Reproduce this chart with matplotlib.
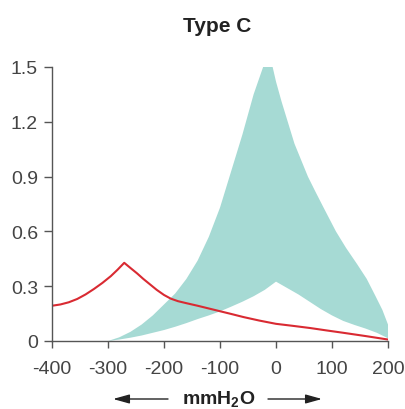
import matplotlib
matplotlib.use('Agg')
import matplotlib.pyplot as plt

# upper edge of the shaded band
up_x = [-300, -280, -260, -240, -220, -200, -180, -160, -140, -120, -100, -80, -60, -40, -23, -15,
        -6, 0, 10, 21, 33, 45, 57, 70, 85, 107, 125, 145, 162, 177, 190, 200]
up_y = [0, 0.02, 0.05, 0.09, 0.14, 0.2, 0.26, 0.34, 0.44, 0.57, 0.73, 0.93, 1.13, 1.35, 1.5, 1.58,
        1.5, 1.42, 1.31, 1.2, 1.08, 0.99, 0.9, 0.82, 0.73, 0.6, 0.51, 0.42, 0.34, 0.25, 0.17, 0.09]

# lower edge of the shaded band
low_x = [-300, -280, -260, -240, -220, -200, -180, -160, -140, -120, -100, -80, -60, -40, -20, 0,
         20, 40, 60, 80, 100, 120, 140, 160, 180, 200]
low_y = [0, 0.008, 0.018, 0.03, 0.045, 0.06, 0.078, 0.098, 0.12, 0.14, 0.162, 0.188, 0.215, 0.245, 0.28, 0.325,
         0.29, 0.255, 0.215, 0.175, 0.14, 0.11, 0.088, 0.068, 0.045, 0.015]

# red curve
red_x = [-400, -385, -370, -355, -340, -325, -310, -295, -283, -271, -260, -248, -237, -225, -213, -200,
         -188, -175, -160, -140, -120, -100, -80, -58, -30, 0, 30, 61, 90, 120, 160, 200]
red_y = [0.193, 0.2, 0.212, 0.23, 0.255, 0.285, 0.318, 0.355, 0.39, 0.428, 0.4, 0.37, 0.34, 0.31, 0.28, 0.252,
         0.232, 0.218, 0.207, 0.193, 0.178, 0.163, 0.148, 0.131, 0.112, 0.094, 0.083, 0.071, 0.058, 0.045, 0.027, 0.008]

x_ticks = [-400, -300, -200, -100, 0, 100, 200]
x_labels = ['-400', '-300', '-200', '-100', '0', '100', '200']
y_ticks = [0, 0.3, 0.6, 0.9, 1.2, 1.5]
y_labels = ['0', '0.3', '0.6', '0.9', '1.2', '1.5']

plt.rcParams['font.family'] = ['Liberation Sans', 'DejaVu Sans']
plt.rcParams['mathtext.fontset'] = 'custom'
plt.rcParams['mathtext.bf'] = 'Liberation Sans:bold'
plt.rcParams['mathtext.rm'] = 'Liberation Sans'

W, H = 406, 410
fig = plt.figure(figsize=(W / 100, H / 100), dpi=100)
ax = fig.add_axes([52 / W, 68 / H, 336 / W, 274 / H])

# band polygon: along the upper edge, back along the lower edge
ax.fill(up_x + low_x[::-1], up_y + low_y[::-1], color='#a6dad4', linewidth=0)
ax.plot(red_x, red_y, color='#d92a32', linewidth=1.5)

ax.set_xlim(-400, 200)
ax.set_ylim(0, 1.5)
ax.set_xticks(x_ticks)
ax.set_xticklabels(x_labels)
ax.set_yticks(y_ticks)
ax.set_yticklabels(y_labels)

for s in ['top', 'right']:
    ax.spines[s].set_visible(False)
for s in ['left', 'bottom']:
    ax.spines[s].set_color('#555555')
    ax.spines[s].set_linewidth(1.0)

ax.tick_params(axis='both', colors='#555555', labelcolor='#444444', labelsize=14, width=1.0)
ax.tick_params(axis='x', length=5, pad=9)
ax.tick_params(axis='y', length=6, pad=4)

fig.text(217 / W, 1 - 32 / H, 'Type C', ha='center', va='baseline', fontsize=15, fontweight='bold', color='#222222')
fig.text(219 / W, 1 - 404 / H, r'$\mathbf{mmH_2O}$', ha='center', va='baseline', fontsize=14, color='#222222')

arrow = dict(arrowstyle='-|>,head_length=0.9,head_width=0.25', color='#222222', lw=1.0,
             mutation_scale=11, shrinkA=0, shrinkB=0)
ax.annotate('', xy=(113 / W, 1 - 400 / H), xytext=(168 / W, 1 - 400 / H), xycoords='figure fraction', arrowprops=arrow)
ax.annotate('', xy=(322 / W, 1 - 400 / H), xytext=(268 / W, 1 - 400 / H), xycoords='figure fraction', arrowprops=arrow)

plt.savefig('out.png', dpi=100)
